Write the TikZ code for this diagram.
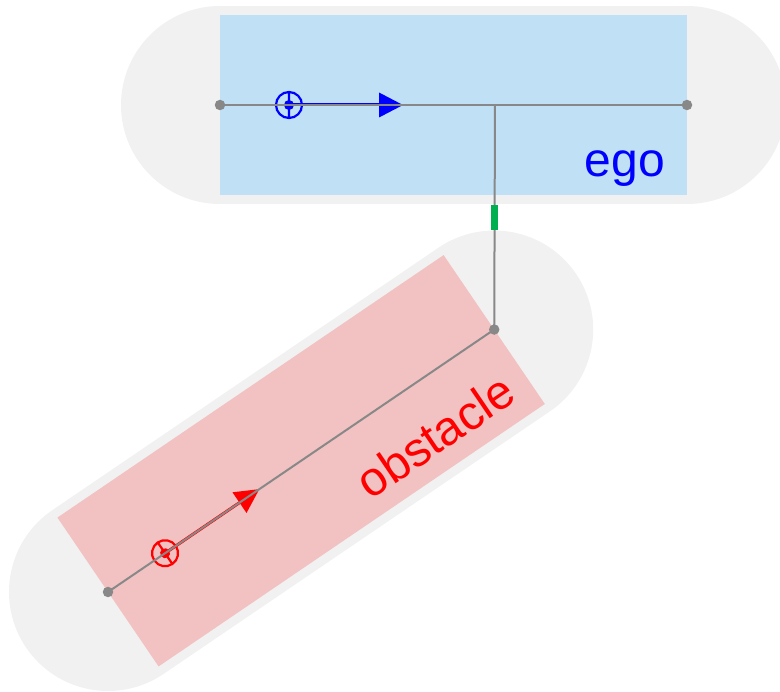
\documentclass[tikz,border=0pt]{standalone}
\usepackage{fontspec}
\setmainfont{Liberation Sans}
\usepackage{tikz}
\usetikzlibrary{arrows.meta}
\definecolor{hullGray}{HTML}{F1F1F1}
\definecolor{axleGray}{HTML}{888888}
\definecolor{egoFill}{HTML}{C0E0F6}
\definecolor{obsFill}{HTML}{F2C2C2}
\definecolor{kinkGreen}{HTML}{00B050}

\begin{document}
\begin{tikzpicture}[x=1pt, y=-1pt,
      hull/.style={line width=198pt, line cap=round, hullGray},
      axle/.style={line width=2pt, axleGray},
      pin/.style={circle, fill=axleGray, inner sep=0pt, minimum size=10.5pt},
      lbl/.style={anchor=base east, inner sep=0pt, font=\fontsize{48}{48}\selectfont},
      heading/.style={line width=3pt, -{Triangle[length=24pt, width=25pt, line width=0pt]}},
      wheel/.style={line width=2.2pt}]
    \useasboundingbox (0,0) rectangle (780,692);
    % ego vehicle
    \begin{scope}[shift={(220,105)}]
      \coordinate (egoRear) at (0,0);
      \coordinate (egoFront) at (467,0);
      \coordinate (egoHitch) at (275,0);
      \coordinate (egoRef) at (69,0);
      \coordinate (egoHead) at (183,0);
      \draw[hull] (egoRear) -- (egoFront);
      \fill[egoFill] (0,-90) rectangle (467,90);
      \node[lbl, blue] (egoLabel) at (445,72) {ego};
      \draw[heading, blue] (egoRef) -- (egoHead);
      \draw[wheel, blue] (egoRef) circle (13pt) (69,-13) -- (69,13);
      \fill[blue] (egoRef) circle (5pt);
    \end{scope}
    % obstacle
    \begin{scope}[shift={(108,592)}, rotate=34.2, transform shape]
      \coordinate (obsRear) at (0,0);
      \coordinate (obsFront) at (467,0);
      \coordinate (obsRef) at (69,0);
      \coordinate (obsHead) at (183,0);
      \draw[hull] (obsRear) -- (obsFront);
      \fill[obsFill] (0,-90) rectangle (467,90);
      \node[lbl, red] (obsLabel) at (448,72) {obstacle};
      \draw[heading, red] (obsRef) -- (obsHead);
      \draw[wheel, red] (obsRef) circle (13pt) (69,-13) -- (69,13);
      \fill[red] (obsRef) circle (5pt);
    \end{scope}
    % axles and link
    \draw[axle] (egoRear) -- (egoFront);
    \draw[axle] (obsRear) -- (obsFront);
    \draw[axle] (egoHitch) -- (obsFront);
    \path (egoHitch) -- (obsFront)
      node[midway, fill=kinkGreen, inner sep=0pt, minimum width=7pt, minimum height=25pt] (kink) {};
    \foreach \p in {egoRear, egoFront, obsRear, obsFront}
      \node[pin] at (\p) {};
\end{tikzpicture}
\end{document}
